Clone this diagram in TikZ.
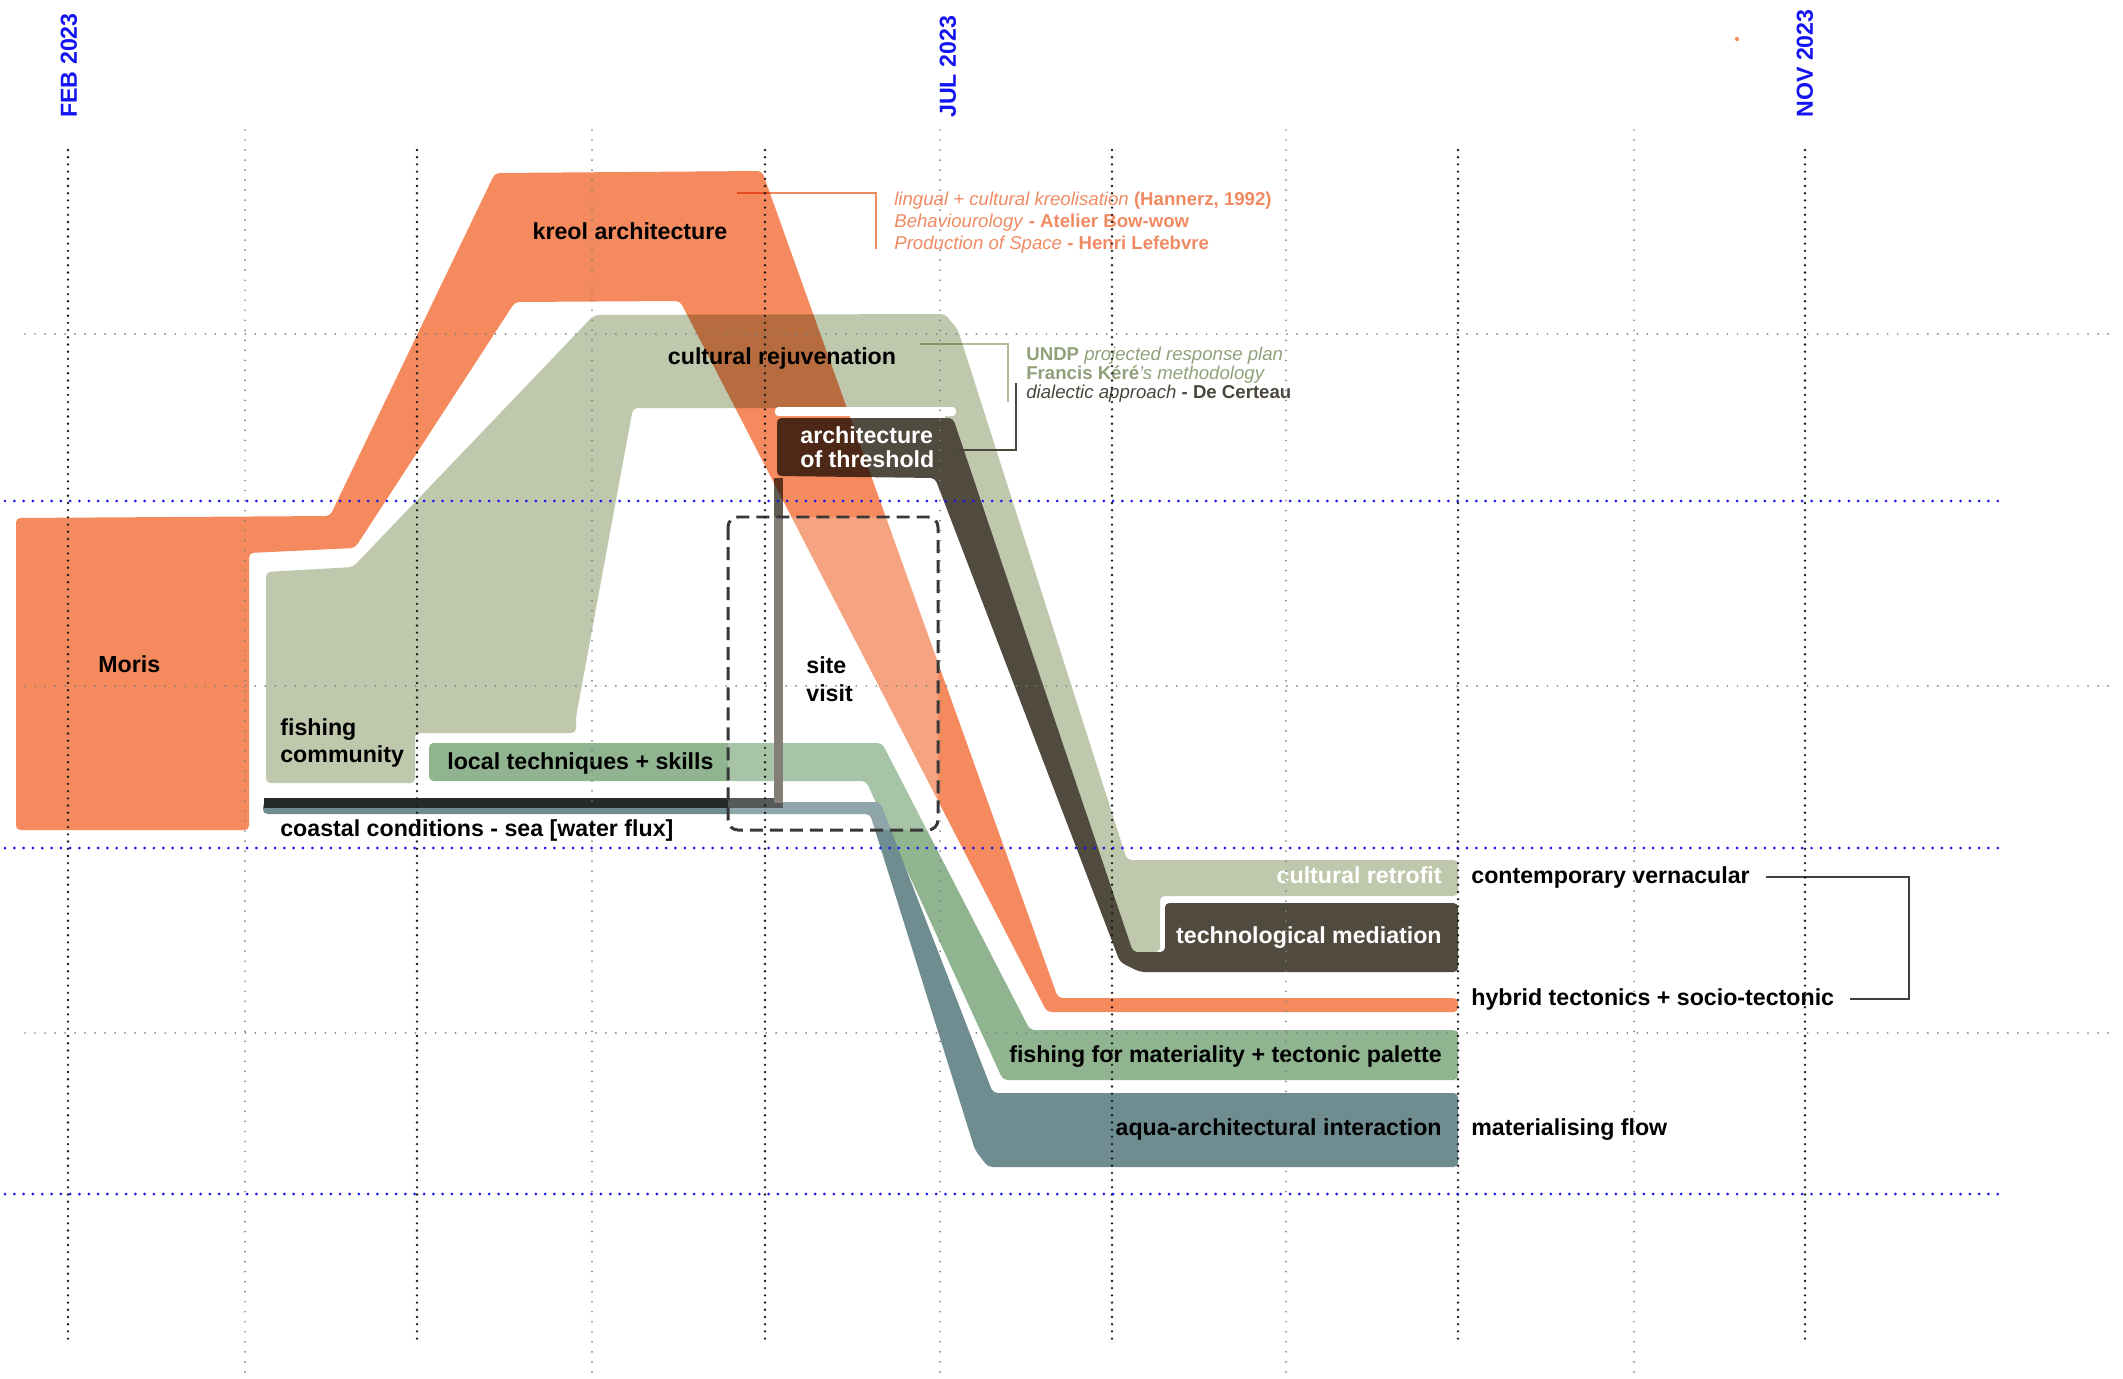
\documentclass[tikz,border=0pt]{standalone}
\usepackage{fontspec}
\setmainfont{Liberation Sans}
\usepackage{tikz}

\definecolor{kreolcol}{HTML}{F48A5E}
\definecolor{sagecol}{HTML}{BFC8AD}
\definecolor{darkcol}{HTML}{514A3E}
\definecolor{greencol}{HTML}{8FB48F}
\definecolor{tealcol}{HTML}{6F8C91}
\definecolor{coastcol}{HTML}{262B28}
\definecolor{linkcol}{HTML}{625B50}
\definecolor{dateblue}{HTML}{1414F0}
\definecolor{annorange}{HTML}{F08A62}
\definecolor{annsage}{HTML}{8FA07A}
\definecolor{anndark}{HTML}{4A463C}
\definecolor{leadsage}{HTML}{B0BD98}

\newcommand\lblfont{\fontsize{13.2}{15.9}\selectfont\bfseries}
\newcommand\threshfont{\fontsize{13.2}{13.7}\selectfont\bfseries}
\newcommand\annfont{\fontsize{10.6}{12.5}\selectfont}

\begin{document}
\begin{tikzpicture}[x=0.02cm, y=-0.02cm,
    lbl/.style={font=\lblfont, inner sep=0pt},
    wlbl/.style={lbl, text=white},
    ann/.style={font=\annfont, inner sep=0pt, anchor=base west},
    datelbl/.style={font=\lblfont, text=dateblue, inner sep=0pt, rotate=90, anchor=west},
    band/.style={rounded corners=2.5pt},
    leader/.style={line width=1.5pt},
    bracket/.style={line width=0.9pt, black!75},
    sitebox/.style={draw=black!78, line width=1.7pt, dash pattern=on 7.4pt off 4pt,
      fill=white, fill opacity=0.22, rounded corners=5.7pt},
    gridmain/.style={line width=1.5pt, dash pattern=on 0pt off 4.1pt, line cap=round, black!90},
    gridlight/.style={line width=1.1pt, dash pattern=on 0pt off 5.7pt, line cap=round, black!50},
    gridblue/.style={line width=1.7pt, dash pattern=on 0pt off 5.3pt, line cap=round, dateblue}]

  \useasboundingbox (0,0) rectangle (2123,1379);

  \fill[sagecol, band] (266,783) -- (266,572) -- (353,567) -- (594,315) -- (945,314)
    -- (958,330) -- (1127,860) -- (1458,860) -- (1458,896) -- (1160,896) -- (1160,952)
    -- (1133,952) -- (945,430) -- (945,408) -- (633,408) -- (576,717) -- (576,733)
    -- (415,733) -- (415,783) -- cycle;
  \fill[greencol, band] (429,743) -- (882,743) -- (1030,1030) -- (1458,1030) -- (1458,1080)
    -- (1003,1080) -- (866,781) -- (429,781) -- cycle;
  \fill[tealcol, band] (263,802) -- (880,802) -- (993,1093) -- (1458,1093) -- (1458,1167)
    -- (988,1167) -- (975,1150) -- (870,814) -- (263,814) -- cycle;

  \coordinate (coastW) at (264,803);
  \coordinate (coastE) at (783,803);
  \coordinate (threshfoot) at (778.5,478);
  \draw[line width=5.5pt, coastcol] (coastW) -- (coastE);
  \draw[line width=5pt, linkcol] (threshfoot) -- (threshfoot |- coastE);

  \fill[darkcol, band] (777,476) -- (777,418) -- (953,418) -- (1133,952) -- (1165,952)
    -- (1165,903) -- (1458,903) -- (1458,972) -- (1140,972) -- (1120,962) -- (935,478)
    -- cycle;

  \begin{scope}[blend mode=multiply]
    \fill[kreolcol, band] (16,518) -- (330,516) -- (495,173) -- (762,171) -- (1058,998)
      -- (1458,998) -- (1458,1012) -- (1047,1012) -- (680,301) -- (515,302) -- (355,548)
      -- (249,553) -- (249,830) -- (16,830) -- cycle;
    \coordinate (kreolpin) at (737,193);
    \coordinate (rejuvpin) at (920,344);
    \draw[leader, annorange] (kreolpin) -| (876,249);
    \draw[leader, leadsage] (rejuvpin) -| (1008,402);
  \end{scope}
  \fill[white, rounded corners=2pt] (775,407) rectangle (956,416);
  \coordinate (threshpin) at (955,450);
  \draw[leader, anndark] (threshpin) -| (1016,383);
  \fill[kreolcol] (1737,39) circle (1.2pt);

  \draw[sitebox] (728,517) rectangle (938,830);

  \node[lbl, anchor=base] (kreol) at (630,239) {kreol architecture};
  \node[lbl, anchor=base] (rejuv) at (782,364) {cultural rejuvenation};
  \node[wlbl, align=left, anchor=west, font=\threshfont] (thresh) at (800,447) {architecture\\of threshold};
  \node[lbl, align=left, anchor=west] (site) at (806,679) {site\\visit};
  \node[lbl, anchor=base west] (moris) at (98,672) {Moris};
  \node[lbl, align=left, anchor=west] (fishing) at (280,743) {fishing\\community};
  \node[lbl, anchor=base west] (local) at (447,769) {local techniques + skills};
  \node[lbl, anchor=base west] (coastal) at (280,836) {coastal conditions - sea [water flux]};
  \node[wlbl, anchor=base east] (retrofit) at (1442,883) {cultural retrofit};
  \node[wlbl, anchor=base east] (techmed) at (1442,943) {technological mediation};
  \node[lbl, anchor=base east] (materiality) at (1442,1062) {fishing for materiality + tectonic palette};
  \node[lbl, anchor=base east] (aqua) at (1442,1135) {aqua-architectural interaction};
  \node[lbl, anchor=base west] (vern) at (1471,883) {contemporary vernacular};
  \node[lbl, anchor=base west] (hybrid) at (1471,1005) {hybrid tectonics + socio-tectonic};
  \node[lbl, anchor=base west] (flow) at (1471,1135) {materialising flow};
  \coordinate (brk) at (1909,0);
  \draw[bracket] ([xshift=9pt]vern.east) -| (brk |- hybrid.east) -- ([xshift=9pt]hybrid.east);

  \node[ann, text=annorange] (kre1) at (894,205) {\textit{lingual + cultural kreolisation} \textbf{(Hannerz, 1992)}};
  \node[ann, text=annorange] (kre2) at (894,227) {\textit{Behaviourology} \textbf{- Atelier Bow-wow}};
  \node[ann, text=annorange] (kre3) at (894,249) {\textit{Production of Space} \textbf{- Henri Lefebvre}};
  \node[ann, text=annsage] (cul1) at (1026,360) {\textbf{UNDP} \textit{projected response plan}};
  \node[ann, text=annsage] (cul2) at (1026,379) {\textbf{Francis Kéré}\textit{'s methodology}};
  \node[ann, text=anndark] (cul3) at (1026,398) {\textit{dialectic approach} \textbf{- De Certeau}};

  \node[datelbl] (feb) at (69,118) {FEB 2023};
  \node[datelbl] (jul) at (948,118) {JUL 2023};
  \node[datelbl] (nov) at (1805,118) {NOV 2023};

  \foreach \gx in {68,417,765,1112,1458,1805}
    \draw[gridmain] (\gx,150) -- (\gx,1345);
  \foreach \gx in {245,592,940,1286,1634}
    \draw[gridlight] (\gx,130) -- (\gx,1379);
  \foreach \gy in {334,686,1033}
    \draw[gridlight] (25,\gy) -- (2110,\gy);
  \foreach \gy in {501,848,1194}
    \draw[gridblue] (5,\gy) -- (2005,\gy);
\end{tikzpicture}
\end{document}
